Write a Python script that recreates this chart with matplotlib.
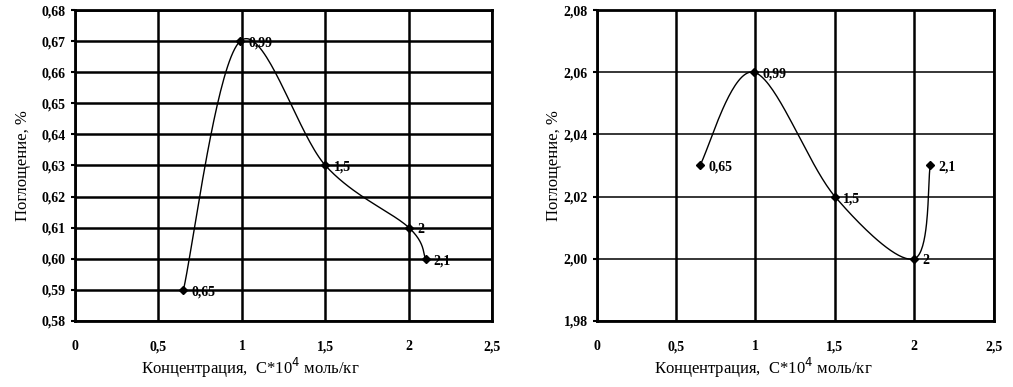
import numpy as np
import matplotlib.pyplot as plt

plt.rcParams['font.family'] = ['Liberation Serif', 'DejaVu Serif']

# данные, левый график
conc = [0.65, 0.99, 1.5, 2, 2.1]
labels = ["0,65", "0,99", "1,5", "2", "2,1"]
absorb_left = [0.59, 0.67, 0.63, 0.61, 0.60]
# правый график
absorb_right = [2.03, 2.06, 2.02, 2.00, 2.03]

xticks = [0, 0.5, 1, 1.5, 2, 2.5]
xtick_labels = ["0", "0,5", "1", "1,5", "2", "2,5"]
yticks_left = [0.58, 0.59, 0.60, 0.61, 0.62, 0.63, 0.64, 0.65, 0.66, 0.67, 0.68]
yticks_right = [1.98, 2.00, 2.02, 2.04, 2.06, 2.08]


def smooth(x, y, n=40):
    # сглаживание как в Excel (Catmull-Rom)
    x = np.asarray(x, float)
    y = np.asarray(y, float)
    px = np.concatenate([[x[0]], x, [x[-1]]])
    py = np.concatenate([[y[0]], y, [y[-1]]])
    xs, ys = [], []
    t = np.linspace(0, 1, n)
    for i in range(1, len(px) - 2):
        for p, out in ((px, xs), (py, ys)):
            p0, p1, p2, p3 = p[i - 1], p[i], p[i + 1], p[i + 2]
            out.extend(0.5 * (2 * p1 + (-p0 + p2) * t
                              + (2 * p0 - 5 * p1 + 4 * p2 - p3) * t ** 2
                              + (-p0 + 3 * p1 - 3 * p2 + p3) * t ** 3))
    return xs, ys


def draw(ax, y, yticks, hgrid_lw, ylabelpad):
    sx, sy = smooth(conc, y)
    ax.plot(sx, sy, color='black', lw=1)
    ax.plot(conc, y, 'D', color='black', ms=4)
    for xi, yi, lab in zip(conc, y, labels):
        ax.annotate(lab, (xi, yi), xytext=(6, -4), textcoords='offset points',
                    fontsize=10, fontweight='bold')
    ax.set_xlim(0, 2.5)
    ax.set_ylim(yticks[0], yticks[-1])
    ax.set_xticks(xticks)
    ax.set_xticklabels(xtick_labels)
    ax.set_yticks(yticks)
    ax.set_yticklabels(["{:.2f}".format(v).replace('.', ',') for v in yticks])
    ax.xaxis.grid(True, color='black', lw=1.8)
    ax.yaxis.grid(True, color='black', lw=hgrid_lw)
    for s in ax.spines.values():
        s.set_linewidth(2)
    ax.tick_params(axis='x', length=0, pad=14, labelsize=10)
    ax.tick_params(axis='y', length=3, width=1.5, labelsize=10)
    for t in ax.get_xticklabels() + ax.get_yticklabels():
        t.set_fontweight('bold')
    ax.set_xlabel("Концентрация,  С*10$^4$ моль/кг", fontsize=12, x=0.42, labelpad=2)
    ax.set_ylabel("Поглощение, %", fontsize=12, labelpad=ylabelpad)


fig = plt.figure(figsize=(10.13, 3.87), dpi=100)
ax1 = fig.add_axes([0.074, 0.171, 0.412, 0.803])
ax2 = fig.add_axes([0.589, 0.171, 0.392, 0.803])
draw(ax1, absorb_left, yticks_left, 1.8, 8)
draw(ax2, absorb_right, yticks_right, 1.1, 1)
fig.savefig("out.png", dpi=100)
